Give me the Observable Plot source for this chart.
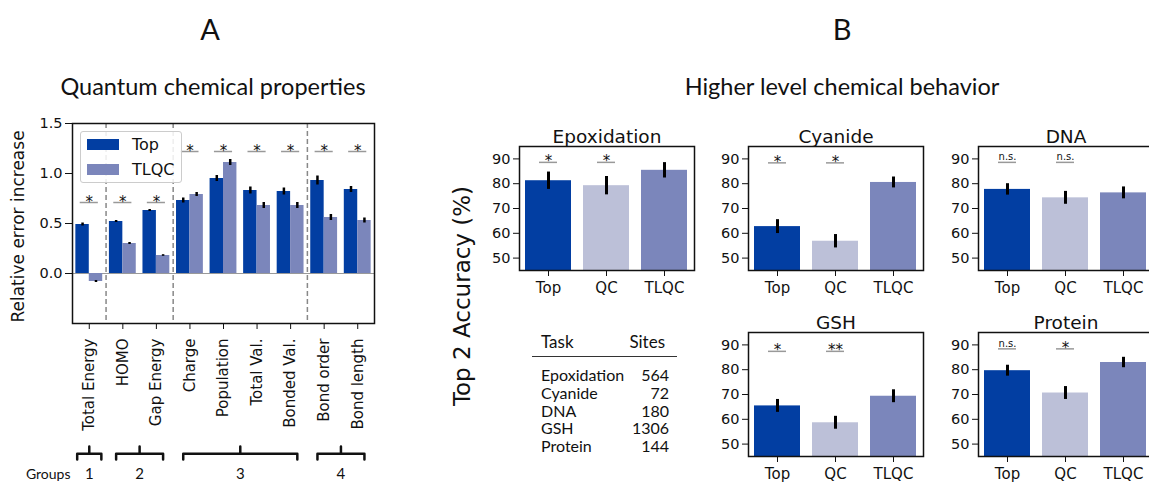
<!DOCTYPE html>
<html><head><meta charset="utf-8">
<script src="https://cdn.jsdelivr.net/npm/d3@7"></script>
<script src="https://cdn.jsdelivr.net/npm/@observablehq/plot@0.6"></script>
<style>
html,body{margin:0;padding:0;background:#fff;}
#root{position:relative;width:1149px;height:485px;overflow:hidden;font-family:"DejaVu Sans",sans-serif;color:#111;}
.abs{position:absolute;}
.cal{font-family:Lato,"Open Sans",sans-serif;color:#111;}
svg{overflow:visible;}
svg.dv, svg.dv text{font-family:"DejaVu Sans",sans-serif !important;}
svg.lt, svg.lt text{font-family:Lato,sans-serif !important;}
</style></head><body><div id="root"></div>
<script>
// ---------- Panel A data ----------
const catsA = ["Total Energy","HOMO","Gap Energy","Charge","Population","Total Val.","Bonded Val.","Bond order","Bond length"];
const seriesA = ["Top","TLQC"];
const colorsA = ["#023ea2","#7b86bb"];
const topA = [0.49,0.52,0.63,0.73,0.95,0.83,0.82,0.93,0.84];
const topErrA = [0.015,0.01,0.01,0.025,0.03,0.035,0.035,0.045,0.03];
const tlqcA = [-0.08,0.30,0.18,0.79,1.11,0.68,0.68,0.56,0.53];
const tlqcErrA = [0.01,0.01,0.008,0.02,0.03,0.03,0.03,0.03,0.025];
const sigA = ["*","*","*","*","*","*","*","*","*"];
const sigLevelA = [0.71,0.71,0.71,1.22,1.22,1.22,1.22,1.22,1.22];
const groupOfA = [1,2,2,3,3,3,3,4,4];
const yTicksA = [0,0.5,1.0,1.5];

// ---------- Panel B data ----------
const tasksB = ["Epoxidation","Cyanide","DNA","GSH","Protein"];
const modelsB = ["Top","QC","TLQC"];
const colorsB = ["#023ea2","#bcc0d8","#7b86bb"];
const accTop = [81.2,62.7,77.7,65.4,79.6];
const accQC = [79.2,56.8,74.3,58.6,70.6];
const accTLQC = [85.4,80.5,76.3,69.3,82.9];
const errTop = [3.5,2.8,2.3,2.6,2.2];
const errQC = [3.7,2.7,2.6,2.6,2.6];
const errTLQC = [3.1,2.2,2.4,2.6,2.1];
const sigTop = ["*","*","n.s.","*","n.s."];
const sigQC = ["*","*","n.s.","**","*"];
const sigLevelB = [88.6,88.4,88.6,87.4,88.4];
const yTicksB = [50,60,70,80,90];
const sitesB = [564,72,180,1306,144];

const root = document.getElementById("root");
function place(el, left, top){ el.classList.add("abs"); el.style.left=left+"px"; el.style.top=top+"px"; root.appendChild(el); return el; }
function label(text, cx, cy, size, cls, rotate){
  const d=document.createElement("div"); d.textContent=text; if(cls) d.className=cls;
  d.style.fontSize=size+"px"; d.style.whiteSpace="nowrap"; d.style.lineHeight="1";
  d.style.transform="translate(-50%,-50%)"+(rotate?" rotate("+rotate+"deg)":"");
  return place(d,cx,cy);
}

// titles
label("A",210,28,29,"cal");
label("Quantum chemical properties",213,87,23.5,"cal");
label("B",842,28,29,"cal");
label("Higher level chemical behavior",842,87,23.5,"cal");

// ---------- Panel A ----------
const rowsA = catsA.flatMap((c,i)=>[
  {i, series:seriesA[0], v:topA[i], e:topErrA[i], off:-0.2},
  {i, series:seriesA[1], v:tlqcA[i], e:tlqcErrA[i], off:0.2}
]);
const sigRowsA = catsA.map((c,i)=>({i, s:sigA[i], y:sigLevelA[i]}));
const groupIds = [...new Set(groupOfA)];
const groupsA = groupIds.map(g=>{
  const idx = d3.range(catsA.length).filter(i=>groupOfA[i]===g);
  const s=d3.min(idx), e=d3.max(idx), ext = s===e ? 0.36 : 0.2;
  return {g, s, e, a:s-ext, b:e+ext, c:(s+e)/2};
});
const boundariesA = groupsA.slice(0,-1).map(g=>g.e+0.5);

const plotA = Plot.plot({
  className:"dv",
  width:380, height:330, marginLeft:72, marginRight:6, marginTop:23, marginBottom:107,
  style:{fontSize:"14px", color:"#111", background:"transparent"},
  x:{domain:[-0.5, catsA.length-0.5], axis:null, label:null},
  y:{domain:[-0.5,1.5], axis:null, label:null},
  color:{domain:seriesA, range:colorsA},
  marks:[
    Plot.ruleY([0], {stroke:"#999", strokeWidth:1.2}),
    Plot.rect(rowsA, {x1:d=>d.i+d.off-0.2, x2:d=>d.i+d.off+0.2, y1:0, y2:"v", fill:"series"}),
    Plot.ruleX(rowsA, {x:d=>d.i+d.off, y1:d=>d.v-d.e, y2:d=>d.v+d.e, stroke:"#000", strokeWidth:2.5}),
    Plot.ruleX(boundariesA, {stroke:"#888", strokeDasharray:"5,3", strokeWidth:1.5}),
    Plot.ruleY(sigRowsA, {x1:d=>d.i-0.27, x2:d=>d.i+0.27, y:"y", stroke:"#999", strokeWidth:1.5}),
    Plot.text(sigRowsA, {x:"i", y:"y", text:"s", lineAnchor:"bottom", dy:4, fontSize:15}),
    Plot.axisY({ticks:yTicksA, tickFormat:d3.format(".1f"), tickSize:7, tickPadding:3, fontSize:14.5, label:null}),
    Plot.axisX({ticks:d3.range(catsA.length), tickFormat:i=>catsA[i], tickRotate:-90, tickSize:6, tickPadding:9, fontSize:15, label:null}),
    Plot.text(["Relative error increase"], {frameAnchor:"left", textAnchor:"middle", rotate:-90, dx:-54, dy:3, fontSize:17}),
    Plot.frame({stroke:"#111", strokeWidth:1.5})
  ]
});
place(plotA,0,100);

// legend A
const leg=document.createElement("div");
leg.style.cssText="width:100px;height:50px;border:1px solid #ccc;border-radius:3px;background:rgba(255,255,255,0.85);font-size:16px;";
seriesA.forEach((s,k)=>{
  const r=document.createElement("div"); r.style.cssText="display:flex;align-items:center;height:25px;padding-left:6px;";
  const sw=document.createElement("span"); sw.style.cssText="display:inline-block;width:32px;height:11px;margin-right:13px;background:"+colorsA[k];
  const t=document.createElement("span"); t.textContent=s;
  r.appendChild(sw); r.appendChild(t); leg.appendChild(r);
});
place(leg,80,131);

// brackets / groups
const bracketPts = groupsA.flatMap(b=>[
  {g:b.g,x:b.a,y:0},{g:b.g,x:b.a,y:0.45},{g:b.g,x:b.c,y:0.45},{g:b.g,x:b.c,y:1},
  {g:b.g,x:b.c,y:0.45},{g:b.g,x:b.b,y:0.45},{g:b.g,x:b.b,y:0}
]);
const plotBr = Plot.plot({
  className:"lt",
  width:380, height:45, marginLeft:72, marginRight:6, marginTop:6, marginBottom:26,
  style:{fontSize:"15px", color:"#111", background:"transparent"},
  x:{domain:[-0.5, catsA.length-0.5], axis:null},
  y:{domain:[0,1], axis:null},
  marks:[
    Plot.line(bracketPts, {x:"x", y:"y", z:"g", stroke:"#111", strokeWidth:2.5, strokeLinejoin:"round", strokeLinecap:"round"}),
    Plot.text(groupsA, {x:"c", text:d=>String(d.g), frameAnchor:"bottom", dy:19, fontSize:15}),
    Plot.text(["Groups"], {frameAnchor:"bottom-left", textAnchor:"end", dx:-2, dy:19, fontSize:14})
  ]
});
place(plotBr,0,440);

// ---------- Panel B ----------
const accB=[accTop,accQC,accTLQC], errB=[errTop,errQC,errTLQC];
function sub(k){
  const rows = modelsB.map((m,j)=>({m, v:accB[j][k], e:errB[j][k]}));
  const sig = [{m:modelsB[0], s:sigTop[k], y:sigLevelB[k]},{m:modelsB[1], s:sigQC[k], y:sigLevelB[k]}];
  return Plot.plot({
    className:"dv",
    width:217, height:184, marginLeft:40, marginRight:2, marginTop:30, marginBottom:30,
    style:{fontSize:"14px", color:"#111", background:"transparent"},
    x:{domain:modelsB, paddingInner:0.2, paddingOuter:0.1, axis:null, label:null},
    y:{domain:[45,95], axis:null, label:null},
    color:{domain:modelsB, range:colorsB},
    marks:[
      Plot.barY(rows, {x:"m", y:"v", fill:"m", clip:true}),
      Plot.ruleX(rows, {x:"m", y1:d=>d.v-d.e, y2:d=>d.v+d.e, stroke:"#000", strokeWidth:3}),
      Plot.tickY(sig, {x:"m", y:"y", inset:14, stroke:"#999", strokeWidth:1.5}),
      Plot.text(sig.filter(d=>d.s!=="n.s."), {x:"m", y:"y", text:"s", lineAnchor:"bottom", dy:4, fontSize:15}),
      Plot.text(sig.filter(d=>d.s==="n.s."), {x:"m", y:"y", text:"s", lineAnchor:"bottom", dy:-2, fontSize:10}),
      Plot.axisY({ticks:yTicksB, tickSize:6, tickPadding:3, fontSize:14.5, label:null}),
      Plot.axisX({tickSize:6, tickPadding:6, fontSize:15, label:null}),
      Plot.text([tasksB[k]], {frameAnchor:"top", dy:-17, fontSize:18.5}),
      Plot.frame({stroke:"#111", strokeWidth:1.5})
    ]
  });
}
const subPos = [[479,116],[708,116],[938,116],[708,302],[938,302]];
tasksB.forEach((t,k)=>place(sub(k), subPos[k][0], subPos[k][1]));

label("Top 2 Accuracy (%)",462,296,23,null,-90);

// table
const tbl=document.createElement("div"); tbl.className="cal";
tbl.style.cssText+="width:145px;font-size:16px;";
const hdr=document.createElement("div");
hdr.style.cssText="display:flex;justify-content:space-between;padding:0 12px 3px 9px;font-size:17px;border-bottom:1.8px solid #333;height:22px;line-height:22px;";
hdr.innerHTML="<span>Task</span><span>Sites</span>";
tbl.appendChild(hdr);
const body=document.createElement("div"); body.style.cssText="padding-top:9px;";
tasksB.forEach((t,k)=>{
  const r=document.createElement("div");
  r.style.cssText="display:flex;justify-content:space-between;padding:0 8px 0 9px;height:17.8px;line-height:17.8px;";
  const a=document.createElement("span"); a.textContent=t;
  const b=document.createElement("span"); b.textContent=String(sitesB[k]);
  r.appendChild(a); r.appendChild(b); body.appendChild(r);
});
tbl.appendChild(body);
place(tbl,532,331);
</script></body></html>
